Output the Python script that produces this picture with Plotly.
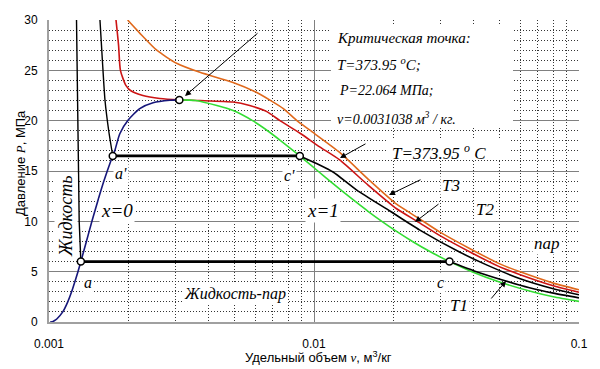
import plotly.graph_objects as go

# ---------------- data (v in m3/kg, P in MPa) ----------------
liq_v = [0.00101, 0.00103, 0.001043, 0.00107, 0.001127, 0.001177, 0.001217, 0.001252, 0.001286,
         0.001319, 0.001384, 0.001452, 0.001527, 0.001611, 0.001711, 0.00177, 0.00185, 0.00199,
         0.0022, 0.00247, 0.00286, 0.0031038]
liq_p = [0, 0.03, 0.1, 0.3, 1, 2, 3, 4, 5, 6, 8, 10, 12, 14, 16, 17, 18.7, 20.06, 21.2, 21.78, 22.03, 22.064]

vap_v = [0.0031038, 0.00357, 0.0043, 0.00495, 0.005864, 0.006678, 0.007498, 0.008371, 0.009308,
         0.01034, 0.01149, 0.01278, 0.01427, 0.01599, 0.01803, 0.02049, 0.02353, 0.02738, 0.03245,
         0.03945, 0.04978, 0.06666, 0.07995, 0.1]
vap_p = [22.064, 22, 21.5, 21, 20, 19, 18, 17, 16, 15, 14, 13, 12, 11, 10, 9, 8, 7, 6, 5, 4, 3, 2.5, 2.05]

crit_v = [0.00179, 0.00183, 0.00186, 0.00195, 0.00203, 0.00226, 0.00262, 0.0031038, 0.00371, 0.00495,
          0.00572, 0.00664, 0.00744, 0.00886, 0.0105, 0.0125, 0.016, 0.0205, 0.0245, 0.03, 0.0388,
          0.05, 0.06, 0.08, 0.1]
crit_p = [30, 27.5, 25, 23.5, 23, 22.5, 22.2, 22.064, 22.0, 21.85, 21.5, 20.9, 20.0, 18.75, 17.4,
          16.1, 13.6, 11.25, 10.0, 8.55, 6.95, 5.5, 4.7, 3.6, 2.95]

hot_v = [0.00198, 0.0022, 0.00255, 0.00303, 0.00371, 0.00495, 0.00608, 0.00766, 0.00862, 0.00965,
         0.0125, 0.016, 0.0205, 0.0245, 0.03, 0.0388, 0.05, 0.06, 0.08, 0.1]
hot_p = [30, 28.7, 27.0, 25.7, 24.8, 23.8, 22.8, 21.2, 20.0, 19.05,
         16.85, 14.2, 11.7, 10.4, 8.9, 7.28, 5.8, 4.98, 3.86, 3.2]

t3_liq_v = [0.001557, 0.00159, 0.001627, 0.00168, 0.00174]
t3_liq_p = [30, 26, 22, 19, 16.5]
t3_two_v = [0.00174, 0.00884]
t3_two_p = [16.5, 16.5]
t3_vap_v = [0.00884, 0.0105, 0.0118, 0.0145, 0.0194, 0.025, 0.0354, 0.045, 0.06, 0.08, 0.1]
t3_vap_p = [16.5, 15.6, 14.9, 13.1, 11.0, 9.15, 6.95, 5.65, 4.3, 3.3, 2.7]

t1_liq_v = [0.00127, 0.00128, 0.00129, 0.0013, 0.001319]
t1_liq_p = [30, 22, 15, 10, 6]
t1_two_v = [0.001319, 0.03245]
t1_two_p = [6, 6]
t1_vap_v = [0.03245, 0.04, 0.053, 0.065, 0.08, 0.1]
t1_vap_p = [6.0, 5.1, 4.07, 3.4, 2.87, 2.4]

pt_v = [0.001319, 0.00174, 0.00884, 0.03245, 0.0031038]
pt_p = [6, 16.5, 16.5, 6, 22.064]

x_major = [0.001, 0.01, 0.1]
x_major_text = ["0.001", "0.01", "0.1"]
x_minor = [k * m for m in (0.001, 0.01) for k in range(2, 10)]

# ---------------- geometry helpers (pixel -> axis coords) ----------------
L, R, T, B = 49, 579, 20, 322
def lx(px):
    return -3 + 2 * (px - L) / (R - L)
def ly(py):
    return 30 * (B - py) / (B - T)
def paper_x(px):
    return (px - L) / (R - L)
def paper_y(py):
    return (B - py) / (B - T)

fig = go.Figure()

def line(x, y, color, width=1.6, spline=True):
    fig.add_trace(go.Scatter(
        x=x, y=y, mode="lines", hoverinfo="skip", showlegend=False,
        line=dict(color=color, width=width,
                  shape="spline" if spline else "linear", smoothing=0.6)))

NAVY = "#16167a"
GREEN = "#33dd33"
RED = "#cc1414"
ORANGE = "#e0691c"

line(hot_v, hot_p, ORANGE)
line(crit_v, crit_p, RED)
line(vap_v, vap_p, GREEN)
line(t1_vap_v, t1_vap_p, "black")
line(t3_vap_v, t3_vap_p, "black")
line(t1_liq_v, t1_liq_p, "black", 1.4, False)
line(t3_liq_v, t3_liq_p, "black", 1.4, True)
line(liq_v, liq_p, NAVY)
line(t1_two_v, t1_two_p, "black", 2.6, False)
line(t3_two_v, t3_two_p, "black", 2.6, False)

fig.add_trace(go.Scatter(
    x=pt_v, y=pt_p, mode="markers", hoverinfo="skip", showlegend=False,
    marker=dict(symbol="circle", size=7, color="white", line=dict(color="black", width=1.5))))

# ---------------- white boxes and leader lines ----------------
shapes = []
annotations = []

def box(x0, y0, x1, y1):
    annotations.append(dict(x=lx(x0), y=ly(y0), xref="x", yref="y", xanchor="left", yanchor="top",
                            text=" ", showarrow=False, width=x1 - x0, height=y1 - y0,
                            bgcolor="white", borderpad=0, borderwidth=0))
def seg(x0, y0, x1, y1):
    shapes.append(dict(type="line", xref="x", yref="y", x0=lx(x0), x1=lx(x1), y0=ly(y0), y1=ly(y1),
                       line=dict(color="black", width=1), layer="above"))

box(331, 26, 513, 127)
box(386, 139, 510, 160)
seg(259, 32, 330, 32)
seg(367, 143, 386, 143)
seg(422, 179, 436, 179)
seg(440, 203, 470, 203)
seg(477, 300, 490, 300)

def arrow(tx, ty, hx, hy):
    annotations.append(dict(x=lx(hx), y=ly(hy), ax=lx(tx), ay=ly(ty), xref="x", yref="y",
                            axref="x", ayref="y", text="", showarrow=True, arrowhead=2,
                            arrowsize=1.2, arrowwidth=1, arrowcolor="black", standoff=0))

arrow(259, 32, 185, 96)
arrow(367, 143, 340, 158)
arrow(422, 179, 389, 195)
arrow(440, 203, 415, 222)
arrow(490, 300, 506, 281)

SERIF = "Liberation Serif"
def label(text, px, py, size=17, anchor="center", bg=True, angle=0):
    annotations.append(dict(x=lx(px), y=ly(py), xref="x", yref="y", text=text, showarrow=False,
                            xanchor=anchor, yanchor="middle", textangle=angle,
                            font=dict(family=SERIF, size=size, color="black"),
                            bgcolor="white" if bg else None, borderpad=1))

label("<i>Критическая точка:</i>", 335, 38, 15, "left", False)
label("<i>T=373.95 <sup>o</sup>C;</i>", 335, 64, 15, "left", False)
label("<i>P=22.064 МПа;</i>", 337, 90, 14, "left", False)
label("<i>v=0.0031038 м<sup>3</sup> / кг.</i>", 335, 118, 14, "left", False)
label("<i>T=373.95 <sup>o</sup> C</i>", 390, 152, 17, "left", False)
label("<i>T3</i>", 451, 185)
label("<i>T2</i>", 485, 209)
label("<i>T1</i>", 459, 305)
label("<i>пар</i>", 547, 243)
label("<i>Жидкость-пар</i>", 235, 294, 16)
label("<i>x=0</i>", 117, 210, 19)
label("<i>x=1</i>", 323, 210, 19)
label("<i>a</i>", 88, 282, 16)
label("<i>a'</i>", 121, 173, 16)
label("<i>c'</i>", 289, 175, 16)
label("<i>c</i>", 440, 282, 16)
label("<i>Жидкость</i>", 66, 216, 18, "center", True, -90)

# axis titles
annotations.append(dict(x=paper_x(318), y=paper_y(357), xref="paper", yref="paper", showarrow=False,
                        text="Удельный объем <span style='font-family:Liberation Serif'><i>v</i></span>, м<sup>3</sup>/кг",
                        font=dict(family="Liberation Sans", size=13, color="black"),
                        xanchor="center", yanchor="middle"))
annotations.append(dict(x=paper_x(20), y=paper_y(163), xref="paper", yref="paper", showarrow=False,
                        text="Давление <span style='font-family:Liberation Serif'><i>P</i></span>, МПа",
                        font=dict(family="Liberation Sans", size=13, color="black"),
                        textangle=-90, xanchor="center", yanchor="middle"))

fig.update_layout(
    width=600, height=369,
    margin=dict(l=L, r=600 - R, t=T, b=369 - B),
    paper_bgcolor="white", plot_bgcolor="white",
    shapes=shapes, annotations=annotations,
    xaxis=dict(type="log", range=[-3, -1], tickvals=x_major, ticktext=x_major_text,
               showgrid=True, gridcolor="#808080", gridwidth=1,
               minor=dict(tickvals=x_minor, showgrid=True, gridcolor="#333333", griddash="1px,2px",
                          gridwidth=1, ticks=""),
               showline=True, linecolor="#a0a0a0", linewidth=2, zeroline=False,
               ticks="", ticklabelstandoff=10,
               tickfont=dict(family="Liberation Sans", size=12, color="black")),
    yaxis=dict(range=[0, 30], tick0=0, dtick=5,
               showgrid=True, gridcolor="#808080", gridwidth=1,
               minor=dict(dtick=1, showgrid=True, gridcolor="#333333", griddash="1px,2px",
                          gridwidth=1, ticks=""),
               showline=True, linecolor="#a0a0a0", linewidth=2, zeroline=False,
               ticks="", ticklabelstandoff=7,
               tickfont=dict(family="Liberation Sans", size=12, color="black")),
)

fig.write_html("out.html", config={"displayModeBar": False},
               post_script="document.body.style.margin='0px';document.body.style.overflow='hidden';")
